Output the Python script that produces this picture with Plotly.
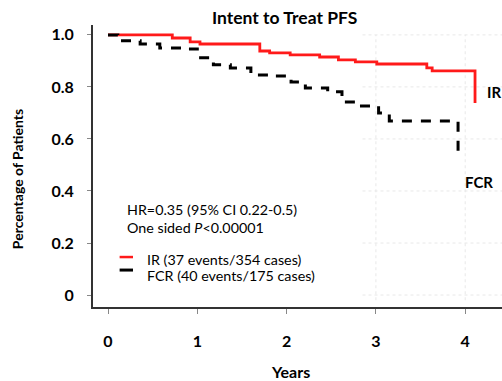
import plotly.graph_objects as go

# IR (red) Kaplan-Meier step points
ir_years = [0, 0.72, 0.92, 1.03, 1.70, 1.81, 2.04, 2.37, 2.58, 2.77, 3.01, 3.57, 3.63, 4.11, 4.11]
ir_surv  = [1.0, 0.988, 0.973, 0.965, 0.938, 0.931, 0.923, 0.915, 0.904, 0.896, 0.888, 0.873, 0.862, 0.862, 0.738]

# FCR (black dashed) step points
fcr_years = [0, 0.11, 0.36, 0.58, 0.90, 1.0, 1.18, 1.37, 1.60, 1.81, 2.05, 2.21, 2.46, 2.62, 2.82, 3.03, 3.15, 3.92, 3.92]
fcr_surv  = [1.0, 0.977, 0.965, 0.950, 0.946, 0.912, 0.885, 0.873, 0.846, 0.842, 0.819, 0.796, 0.781, 0.742, 0.727, 0.700, 0.669, 0.669, 0.538]

x_ticks = [0, 1, 2, 3, 4]
y_ticks = [0, 0.2, 0.4, 0.6, 0.8, 1.0]
y_labels = ["0", "0.2", "0.4", "0.6", "0.8", "1.0"]

FONT = "Lato"

fig = go.Figure()
fig.add_trace(go.Scatter(x=ir_years, y=ir_surv, mode="lines", line_shape="hv",
                         line=dict(color="#ff1a1a", width=2.8), showlegend=False))
fig.add_trace(go.Scatter(x=fcr_years, y=fcr_surv, mode="lines", line_shape="hv",
                         line=dict(color="black", width=3, dash="10px,9px"), showlegend=False))

# faint dotted grid artefacts
shapes = []
for xv in [3, 4]:
    shapes.append(dict(type="line", xref="x", yref="y", x0=xv, x1=xv, y0=-0.02, y1=1.0,
                       line=dict(color="#e8e8e8", width=1, dash="dot"), layer="below"))
for yv in y_ticks:
    shapes.append(dict(type="line", xref="x", yref="y", x0=2.85, x1=4.45, y0=yv, y1=yv,
                       line=dict(color="#e8e8e8", width=1, dash="dot"), layer="below"))
# legend swatches
shapes.append(dict(type="line", xref="x", yref="y", x0=0.13, x1=0.28, y0=0.146, y1=0.146,
                   line=dict(color="#ff1a1a", width=2.5)))
shapes.append(dict(type="line", xref="x", yref="y", x0=0.13, x1=0.28, y0=0.096, y1=0.096,
                   line=dict(color="black", width=3)))

annotations = [
    dict(text="<b>Intent to Treat PFS</b>", xref="paper", yref="paper", x=0.469, y=1.028,
         showarrow=False, font=dict(family=FONT, size=17.5, color="black"), xanchor="center", yanchor="middle"),
    dict(text="<b>Percentage of Patients</b>", xref="paper", yref="paper", x=-0.183, y=0.454,
         textangle=-90, showarrow=False, font=dict(family=FONT, size=14, color="black"),
         xanchor="center", yanchor="middle"),
    dict(text="<b>Years</b>", xref="paper", yref="paper", x=0.482, y=-0.227,
         showarrow=False, font=dict(family=FONT, size=16, color="black"), xanchor="center", yanchor="middle"),
    dict(text="<b>IR</b>", xref="x", yref="y", x=4.22, y=0.78, showarrow=False,
         font=dict(family=FONT, size=15, color="black"), xanchor="left", yanchor="middle"),
    dict(text="<b>FCR</b>", xref="x", yref="y", x=3.975, y=0.435, showarrow=False,
         font=dict(family=FONT, size=15, color="black"), xanchor="left", yanchor="middle"),
    dict(text="HR=0.35 (95% CI 0.22-0.5)", xref="x", yref="y", x=0.19, y=0.327, showarrow=False,
         font=dict(family=FONT, size=14.3, color="black"), xanchor="left", yanchor="middle"),
    dict(text="One sided <i>P</i>&lt;0.00001", xref="x", yref="y", x=0.19, y=0.258, showarrow=False,
         font=dict(family=FONT, size=14.3, color="black"), xanchor="left", yanchor="middle"),
    dict(text="IR (37 events/354 cases)", xref="x", yref="y", x=0.414, y=0.135, showarrow=False,
         font=dict(family=FONT, size=14.3, color="black"), xanchor="left", yanchor="middle"),
    dict(text="FCR (40 events/175 cases)", xref="x", yref="y", x=0.414, y=0.077, showarrow=False,
         font=dict(family=FONT, size=14.3, color="black"), xanchor="left", yanchor="middle"),
]

fig.update_layout(
    width=502, height=381,
    margin=dict(l=93, r=0, t=25, b=74),
    paper_bgcolor="white", plot_bgcolor="white",
    shapes=shapes, annotations=annotations,
    xaxis=dict(range=[-0.168, 4.412], tickvals=x_ticks, ticktext=[f"<b>{v}</b>" for v in x_ticks],
               showgrid=False, zeroline=False, showline=True, linecolor="#333333", linewidth=2,
               ticks="outside", ticklen=5, tickcolor="#888888", tickwidth=1,
               ticklabelstandoff=14, tickfont=dict(family=FONT, size=16, color="black")),
    yaxis=dict(range=[-0.046, 1.038], tickvals=y_ticks, ticktext=[f"<b>{t}</b>" for t in y_labels],
               showgrid=False, zeroline=False, showline=True, linecolor="#333333", linewidth=2,
               ticks="outside", ticklen=4, tickcolor="#888888", tickwidth=1,
               ticklabelstandoff=10, tickfont=dict(family=FONT, size=16, color="black")),
)

fig.write_html("out.html")
